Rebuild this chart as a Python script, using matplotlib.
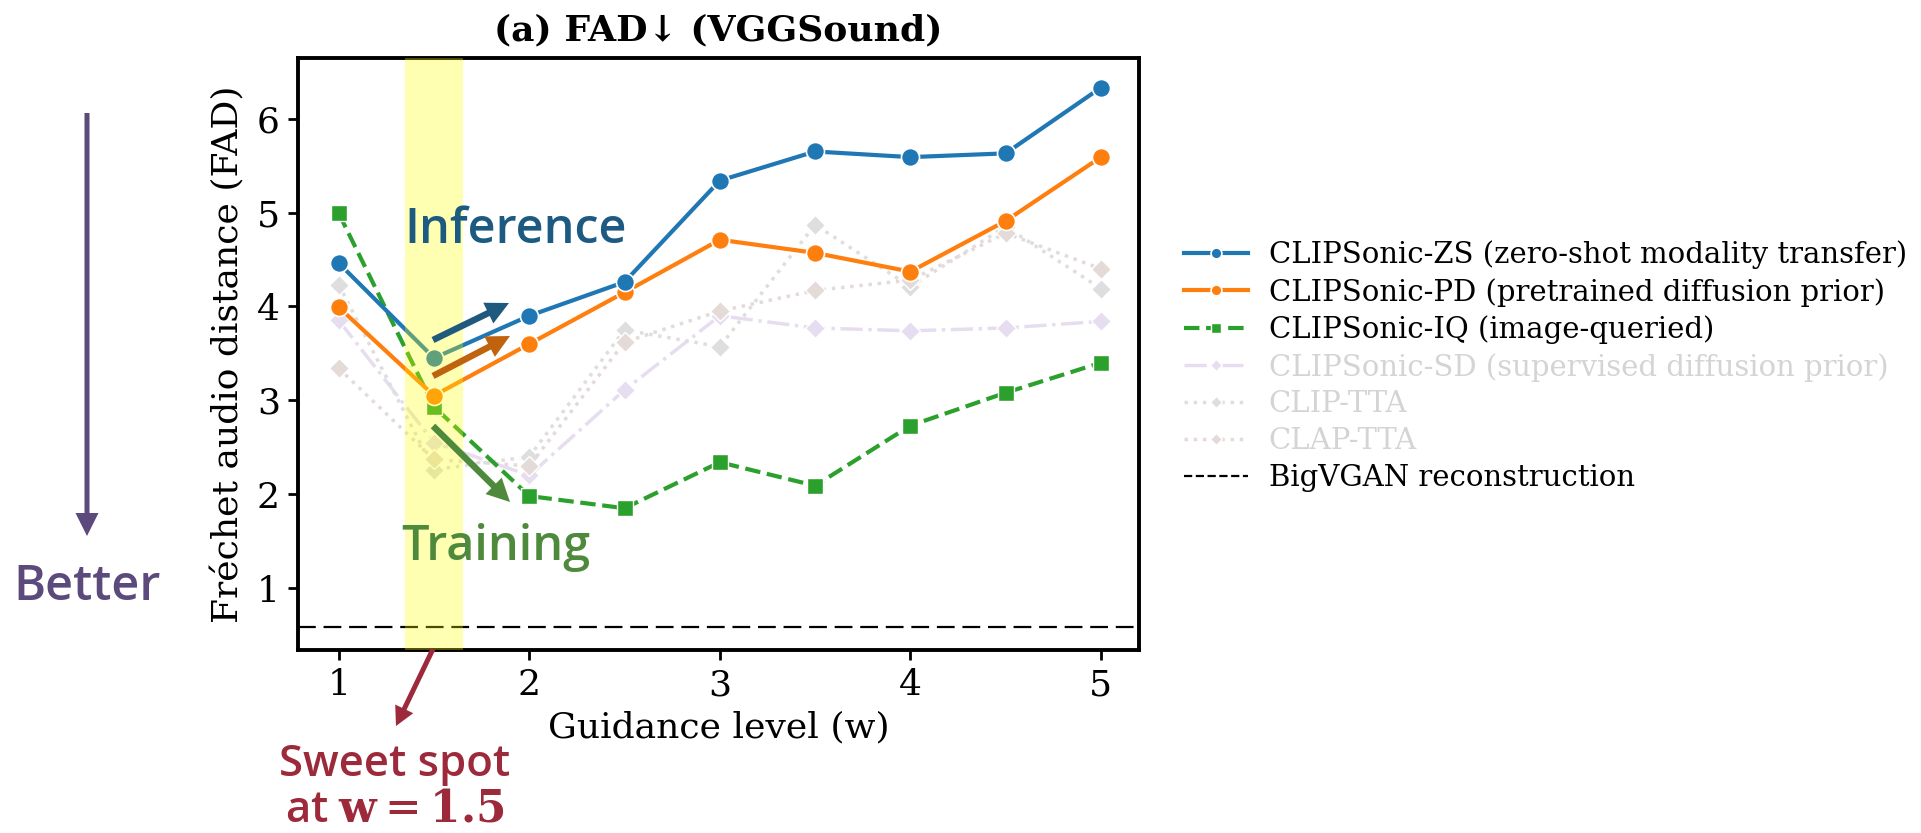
import matplotlib
matplotlib.use('Agg')
import matplotlib.pyplot as plt
from matplotlib.lines import Line2D
from matplotlib.patches import FancyArrowPatch

# guidance levels and FAD values
w = [1, 1.5, 2, 2.5, 3, 3.5, 4, 4.5, 5]
fad_zs = [4.46, 3.45, 3.90, 4.26, 5.34, 5.65, 5.59, 5.63, 6.33]
fad_pd = [3.99, 3.05, 3.60, 4.15, 4.71, 4.57, 4.37, 4.91, 5.59]
fad_iq = [4.99, 2.93, 1.98, 1.85, 2.34, 2.09, 2.73, 3.08, 3.40]
fad_sd = [3.85, 2.55, 2.20, 3.11, 3.90, 3.77, 3.74, 3.77, 3.84]
fad_clip_tta = [4.23, 2.26, 2.40, 3.75, 3.57, 4.87, 4.21, 4.85, 4.19]
fad_clap_tta = [3.34, 2.37, 2.30, 3.62, 3.95, 4.17, 4.28, 4.78, 4.40]
fad_bigvgan = 0.59

names = ['CLIPSonic-ZS (zero-shot modality transfer)',
         'CLIPSonic-PD (pretrained diffusion prior)',
         'CLIPSonic-IQ (image-queried)',
         'CLIPSonic-SD (supervised diffusion prior)',
         'CLIP-TTA',
         'CLAP-TTA',
         'BigVGAN reconstruction']

plt.rcParams['font.family'] = ['DejaVu Serif', 'DejaVu Sans']
plt.rcParams['mathtext.fontset'] = 'dejavuserif'

W, H = 1921, 833
def px(x, y):
    # pixel position (from top-left) -> figure fraction
    return (x / W, 1 - y / H)

fig = plt.figure(figsize=(19.21, 8.33), dpi=100)
ax = fig.add_axes([298 / W, 1 - 650 / H, (1139 - 298) / W, (650 - 57.6) / H])

# faded baselines first
h_sd, = ax.plot(w, fad_sd, color='#e6def0', ls='-.', lw=2.5, marker='D', ms=10.5,
                mec='white', mew=1, zorder=2)
h_clip, = ax.plot(w, fad_clip_tta, color='#dedede', ls=':', lw=2.5, marker='D', ms=10.5,
                  mec='white', mew=1, zorder=2)
h_clap, = ax.plot(w, fad_clap_tta, color='#e4dad7', ls=':', lw=2.5, marker='D', ms=10.5,
                  mec='white', mew=1, zorder=2)

h_iq, = ax.plot(w, fad_iq, color='#2ca02c', ls='--', lw=3, marker='s', ms=11.5,
                mec='white', mew=1, zorder=3)
h_pd, = ax.plot(w, fad_pd, color='#ff7f0e', ls='-', lw=3, marker='o', ms=13,
                mec='white', mew=1.2, zorder=3)
h_zs, = ax.plot(w, fad_zs, color='#1f77b4', ls='-', lw=3, marker='o', ms=13,
                mec='white', mew=1.2, zorder=3)
ax.axhline(fad_bigvgan, color='black', ls=(0, (8, 3.5)), lw=1.6, zorder=1)
h_big = Line2D([], [], color='black', ls='--', lw=1.6)

# sweet spot band
ax.axvspan(1.35, 1.65, color='yellow', alpha=0.3, lw=0, zorder=5)

ax.set_xlim(0.786, 5.2)
ax.set_ylim(0.34, 6.65)
ax.set_xticks([1, 2, 3, 4, 5])
ax.set_yticks([1, 2, 3, 4, 5, 6])
ax.tick_params(labelsize=26, length=7, width=2, direction='out', pad=6)
for s in ax.spines.values():
    s.set_linewidth(2.8)

ax.set_xlabel('Guidance level (w)', fontsize=26, labelpad=6)
ax.set_ylabel('Fréchet audio distance (FAD)', fontsize=26, labelpad=8)
ax.set_title('(a) FAD↓ (VGGSound)', fontsize=26, fontweight='bold', pad=12)

handles = [h_zs, h_pd, h_iq, h_sd, h_clip, h_clap, h_big]
leg = fig.legend(handles, names, loc='upper left', bbox_to_anchor=px(1158, 214),
                 frameon=False, fontsize=21, labelspacing=0.3, handlelength=2.2,
                 handletextpad=0.7, markerscale=0.6, borderpad=0.4)
for t in leg.get_texts()[3:6]:
    t.set_color('#d4d4d4')

# overlay annotations
def arrow(start, end, color, tail, head_w, head_l):
    a = FancyArrowPatch(px(*start), px(*end), transform=fig.transFigure,
                        arrowstyle=f'simple,head_length={head_l},head_width={head_w},tail_width={tail}',
                        mutation_scale=0.72, lw=0, color=color, shrinkA=0, shrinkB=0,
                        zorder=10)
    fig.patches.append(a)

sans = ['Open Sans', 'DejaVu Sans']
arrow((87, 113), (87, 536), '#5b4a7b', 5, 23, 23)
fig.text(*px(87, 600), 'Better', fontsize=35, color='#5b4a7b', family=sans,
         weight='semibold', ha='center', va='baseline')

arrow((433, 340), (509, 303), '#1f5a7e', 6.5, 23, 23)
arrow((433, 376), (510, 336), '#c0630e', 6.5, 23, 23)
arrow((433, 426), (510, 502), '#4f8a3c', 6.5, 23, 23)
fig.text(*px(516, 243), 'Inference', fontsize=35, color='#1d5a82', family=sans,
         weight='semibold', ha='center', va='baseline')
fig.text(*px(496, 560), 'Training', fontsize=35, color='#4f8a3c', family=sans,
         weight='semibold', ha='center', va='baseline')

arrow((433, 649), (396, 726), '#9c2a3b', 5, 20, 19)
fig.text(*px(395, 776), 'Sweet spot', fontsize=31.5, color='#9c2a3b', family=sans,
         weight='semibold', ha='center', va='baseline')
fig.text(*px(395, 821), r'at $\mathbf{w}=\mathbf{1.5}$', fontsize=31.5, color='#9c2a3b',
         family=sans, weight='semibold', ha='center', va='baseline')

fig.savefig('out.png', dpi=100)
